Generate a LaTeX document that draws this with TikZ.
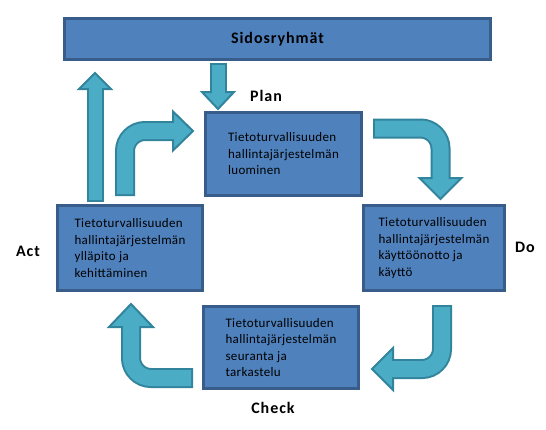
\documentclass[tikz,border=0pt]{standalone}
\usepackage{fontspec}
\setmainfont{Carlito}
\newfontfamily\boxfont[LetterSpace=2.5]{Carlito}
\newfontfamily\tagfont[LetterSpace=6]{Carlito}
\usetikzlibrary{calc}

\definecolor{boxfill}{HTML}{4F81BD}
\definecolor{boxline}{HTML}{385D8A}
\definecolor{flowfill}{HTML}{4BACC6}
\definecolor{flowline}{HTML}{31849B}

\tikzset{
  box/.style={draw=boxline, fill=boxfill, line width=3pt, inner sep=0pt, align=left,
    font=\boxfont\fontsize{13}{16.5}\selectfont},
  tag/.style={font=\tagfont\bfseries\fontsize{16}{19}\selectfont},
  flowrim/.style={draw=flowline, line width=20pt, rounded corners=20pt},
  flowbody/.style={draw=flowfill, line width=16pt, rounded corners=20pt,
    shorten <=2pt, shorten >=-2pt},
  flowhead/.style={fill=flowfill, draw=flowline, line width=2pt, line join=miter}
}

% #1 half width of head, #2 start, #3 path operation, #4 head base, #5 tip
\newcommand{\flowarrow}[5][21]{%
  \draw[flowrim] (#2) #3 (#4);
  \filldraw[flowhead] ($(#4)!#1pt!90:(#5)$) -- (#5) -- ($(#4)!#1pt!-90:(#5)$) -- cycle;
  \draw[flowbody] (#2) #3 (#4);
}

\begin{document}
\begin{tikzpicture}[x=1pt, y=-1pt]
  \useasboundingbox (0,0) rectangle (546,429);

  \node[box, tag, minimum width=426pt, minimum height=41pt] (top) at (277.5,39) {Sidosryhmät};
  \node[box, minimum width=156pt, minimum height=83pt] (plan) at (283.5,154)
    {Tietoturvallisuuden\\hallintajärjestelmän\\luominen};
  \node[box, minimum width=141pt, minimum height=85pt] (do) at (434,248)
    {Tietoturvallisuuden\\hallintajärjestelmän\\käyttöönotto ja\\käyttö};
  \node[box, minimum width=155pt, minimum height=82pt] (check) at (281,347.5)
    {Tietoturvallisuuden\\hallintajärjestelmän\\seuranta ja\\tarkastelu};
  \node[box, minimum width=145pt, minimum height=85pt] (act) at (130,248)
    {Tietoturvallisuuden\\hallintajärjestelmän\\ylläpito ja\\kehittäminen};

  \node[tag] (plantag) at (266,96) {Plan};
  \node[tag] (dotag) at (525,247) {Do};
  \node[tag] (checktag) at (273,408) {Check};
  \node[tag] (acttag) at (28,251) {Act};

  % ends of the arrows
  \coordinate (d0) at ($(top.south)+(-59.5,2)$);
  \coordinate (d1) at ($(plan.north)+(-65.5,-19)$);
  \coordinate (d2) at ($(plan.north)+(-65.5,-2)$);
  \coordinate (u0) at ($(act.north)+(-35,-2)$);
  \coordinate (u1) at ($(top.south)+(-182.5,28)$);
  \coordinate (u2) at ($(top.south)+(-182.5,12)$);
  \coordinate (ap0) at ($(act.north)+(-5,-8)$);
  \coordinate (ap1) at ($(plan.west)+(-31,-23)$);
  \coordinate (ap2) at ($(plan.west)+(-11,-23)$);
  \coordinate (pd0) at ($(plan.east)+(10,-25.5)$);
  \coordinate (pd1) at ($(do.north)+(6.5,-26)$);
  \coordinate (pd2) at ($(do.north)+(6.5,-5)$);
  \coordinate (dc0) at ($(do.south)+(8,13)$);
  \coordinate (dc1) at ($(check.east)+(33,21.5)$);
  \coordinate (dc2) at ($(check.east)+(12,21.5)$);
  \coordinate (ca0) at ($(check.west)+(-9,30.5)$);
  \coordinate (ca1) at ($(act.south)+(1,35)$);
  \coordinate (ca2) at ($(act.south)+(1,12)$);

  \begin{scope}[flowrim/.append style={line width=17pt},
      flowbody/.append style={line width=13pt}]
    \flowarrow[16]{d0}{--}{d1}{d2}
    \flowarrow[16]{u0}{--}{u1}{u2}
  \end{scope}
  \flowarrow[19.5]{ap0}{|-}{ap1}{ap2}
  \flowarrow[21]{pd0}{-|}{pd1}{pd2}
  \flowarrow[21]{dc0}{|-}{dc1}{dc2}
  \flowarrow[22]{ca0}{-|}{ca1}{ca2}
\end{tikzpicture}
\end{document}
